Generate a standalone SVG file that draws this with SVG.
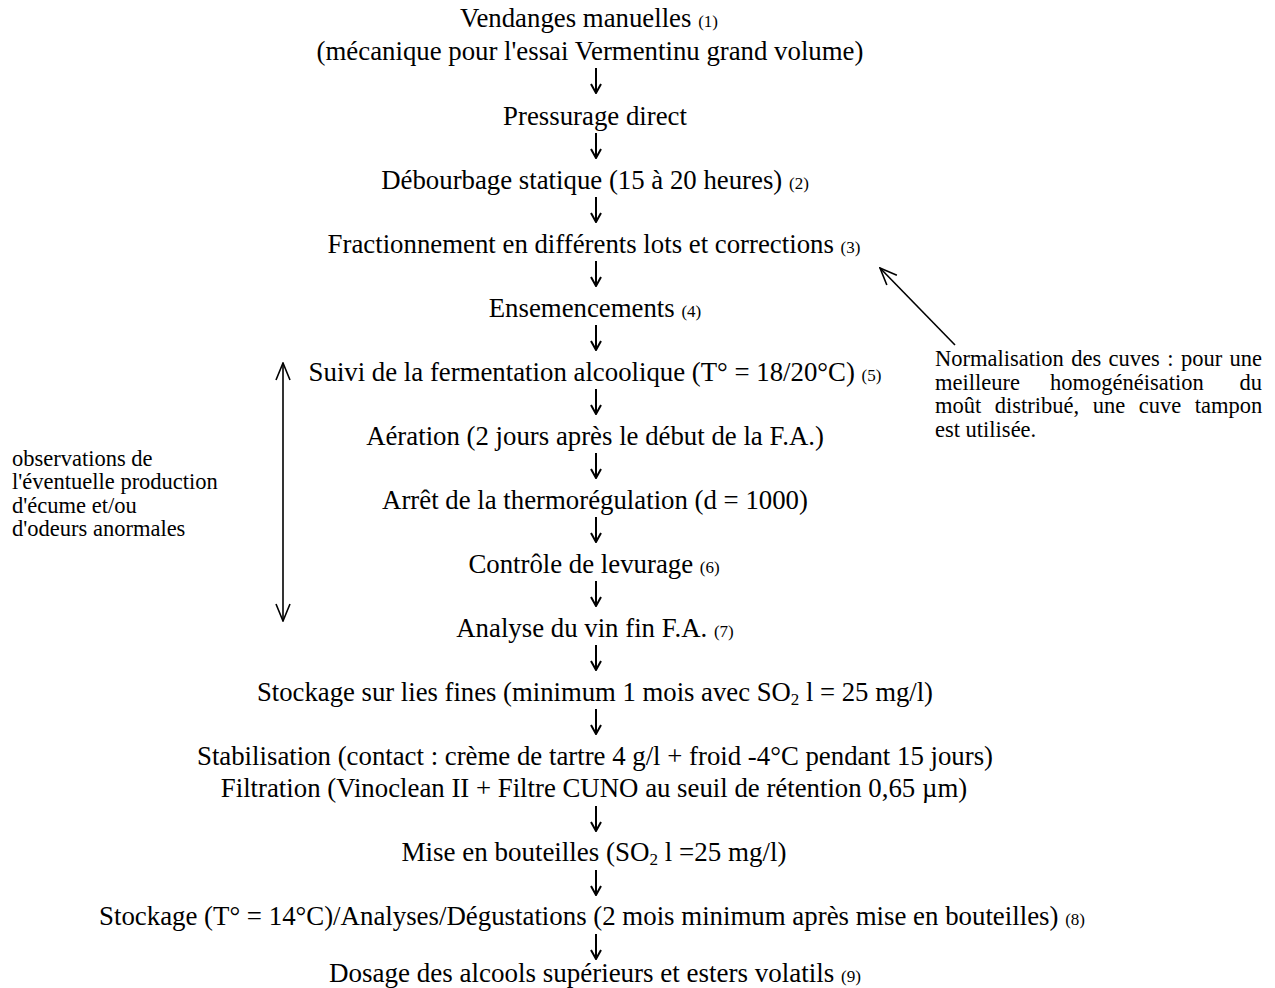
<svg xmlns="http://www.w3.org/2000/svg" width="1275" height="988" viewBox="0 0 1275 988">
<style>
text{font-family:"Liberation Serif","Times New Roman",serif;fill:#000}
.m{font-size:26.8px;text-anchor:middle}
.n{font-size:17px}
.s{font-size:22.5px}
.sub{font-size:17px}
.a{stroke:#000;stroke-width:2;fill:none}
.b{stroke:#000;stroke-width:1.6;fill:none}
</style>
<defs>
<marker id="ah" viewBox="0 0 12 12" refX="11" refY="6" markerWidth="12" markerHeight="12" markerUnits="userSpaceOnUse" orient="auto-start-reverse">
<path d="M2,1 L11,6 L2,11" fill="none" stroke="#000" stroke-width="2"/>
</marker>
<marker id="bh" viewBox="0 0 20 20" refX="19" refY="10" markerWidth="20" markerHeight="20" markerUnits="userSpaceOnUse" orient="auto-start-reverse">
<path d="M2,3 L19,10 L2,17" fill="none" stroke="#000" stroke-width="1.6"/>
</marker>
</defs>
<g id="connectors">
<line class="a" x1="596" y1="68" x2="596" y2="93" marker-end="url(#ah)"/>
<line class="a" x1="596" y1="133" x2="596" y2="158" marker-end="url(#ah)"/>
<line class="a" x1="596" y1="197" x2="596" y2="222" marker-end="url(#ah)"/>
<line class="a" x1="596" y1="261" x2="596" y2="286" marker-end="url(#ah)"/>
<line class="a" x1="596" y1="325" x2="596" y2="350" marker-end="url(#ah)"/>
<line class="a" x1="596" y1="389" x2="596" y2="414" marker-end="url(#ah)"/>
<line class="a" x1="596" y1="453" x2="596" y2="478" marker-end="url(#ah)"/>
<line class="a" x1="596" y1="517" x2="596" y2="542" marker-end="url(#ah)"/>
<line class="a" x1="596" y1="581" x2="596" y2="606" marker-end="url(#ah)"/>
<line class="a" x1="596" y1="645" x2="596" y2="670" marker-end="url(#ah)"/>
<line class="a" x1="596" y1="709" x2="596" y2="734" marker-end="url(#ah)"/>
<line class="a" x1="596" y1="806" x2="596" y2="831" marker-end="url(#ah)"/>
<line class="a" x1="596" y1="870" x2="596" y2="895" marker-end="url(#ah)"/>
<line class="a" x1="596" y1="934" x2="596" y2="959" marker-end="url(#ah)"/>
<line class="b" x1="283" y1="363" x2="283" y2="621" marker-start="url(#bh)" marker-end="url(#bh)"/>
<line class="b" x1="955" y1="345" x2="880" y2="268" marker-end="url(#bh)"/>
</g>
<g id="n1"><text class="m" x="589" y="27">Vendanges manuelles <tspan class="n">(1)</tspan></text>
<text class="m" x="590" y="60">(mécanique pour l'essai Vermentinu grand volume)</text></g>
<g id="n2"><text class="m" x="595" y="125">Pressurage direct</text></g>
<g id="n3"><text class="m" x="595" y="189">Débourbage statique (15 à 20 heures) <tspan class="n">(2)</tspan></text></g>
<g id="n4"><text class="m" x="594" y="253">Fractionnement en différents lots et corrections <tspan class="n">(3)</tspan></text></g>
<g id="n5"><text class="m" x="595" y="317">Ensemencements <tspan class="n">(4)</tspan></text></g>
<g id="n6"><text class="m" x="595" y="381">Suivi de la fermentation alcoolique (T° = 18/20°C) <tspan class="n">(5)</tspan></text></g>
<g id="n7"><text class="m" x="595" y="445">Aération (2 jours après le début de la F.A.)</text></g>
<g id="n8"><text class="m" x="595" y="509">Arrêt de la thermorégulation (d = 1000)</text></g>
<g id="n9"><text class="m" x="594" y="573">Contrôle de levurage <tspan class="n">(6)</tspan></text></g>
<g id="n10"><text class="m" x="595" y="637">Analyse du vin fin F.A. <tspan class="n">(7)</tspan></text></g>
<g id="n11"><text class="m" x="595" y="701" textLength="676" lengthAdjust="spacingAndGlyphs">Stockage sur lies fines (minimum 1 mois avec SO<tspan class="sub" dy="4">2</tspan><tspan dy="-4"> l = 25 mg/l)</tspan></text></g>
<g id="n12"><text class="m" x="595" y="765">Stabilisation (contact : crème de tartre 4 g/l + froid -4°C pendant 15 jours)</text>
<text class="m" x="594" y="797">Filtration (Vinoclean II + Filtre CUNO au seuil de rétention 0,65 µm)</text></g>
<g id="n13"><text class="m" x="594" y="861" textLength="385" lengthAdjust="spacingAndGlyphs">Mise en bouteilles (SO<tspan class="sub" dy="4">2</tspan><tspan dy="-4"> l =25 mg/l)</tspan></text></g>
<g id="n14"><text class="m" x="592" y="925" textLength="986" lengthAdjust="spacingAndGlyphs">Stockage (T° = 14°C)/Analyses/Dégustations (2 mois minimum après mise en bouteilles) <tspan class="n">(8)</tspan></text></g>
<g id="n15"><text class="m" x="595" y="982" textLength="532" lengthAdjust="spacingAndGlyphs">Dosage des alcools supérieurs et esters volatils <tspan class="n">(9)</tspan></text></g>
<g id="note-left">
<text class="s" x="12" y="466">observations de</text>
<text class="s" x="12" y="489">l'éventuelle production</text>
<text class="s" x="12" y="513">d'écume et/ou</text>
<text class="s" x="12" y="536">d'odeurs anormales</text>
</g>
<g id="note-right">
<text class="s" x="935" y="366" word-spacing="1.8">Normalisation des cuves : pour une</text>
<text class="s" x="935" y="390">meilleure</text>
<text class="s" x="1050" y="390">homogénéisation</text>
<text class="s" x="1262" y="390" text-anchor="end">du</text>
<text class="s" x="935" y="413" word-spacing="7.9">moût distribué, une cuve tampon</text>
<text class="s" x="935" y="437">est utilisée.</text>
</g>
</svg>
